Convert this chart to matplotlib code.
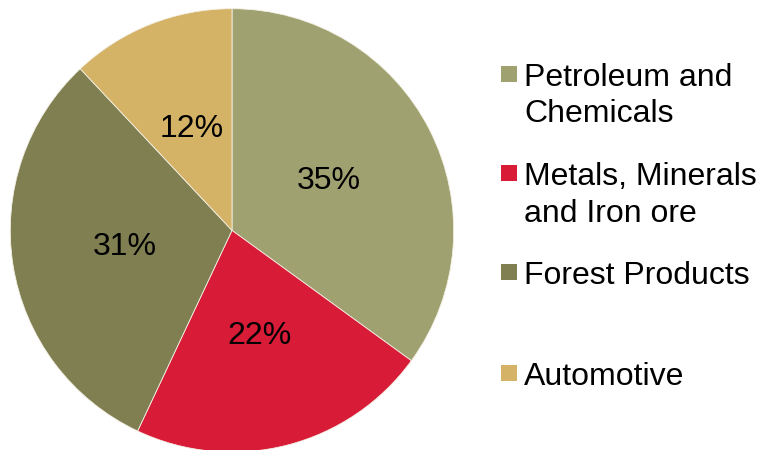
import matplotlib
matplotlib.use('Agg')
import matplotlib.pyplot as plt
from matplotlib.patches import Rectangle

plt.rcParams['font.family'] = ['Liberation Sans', 'DejaVu Sans']

categories = ['Petroleum and\nChemicals', 'Metals, Minerals\nand Iron ore', 'Forest Products', 'Automotive']
shares = [35, 22, 31, 12]
colors = ['#A0A170', '#D81C38', '#7F7F52', '#D4B266']

W, H = 757, 450
fig = plt.figure(figsize=(W / 100, H / 100), dpi=100)

# pie placed by pixel centre and radius
cx, cy, r = 232, 230.4, 221.7
ax = fig.add_axes([(cx - r) / W, (H - cy - r) / H, 2 * r / W, 2 * r / H])
wedges, texts, autotexts = ax.pie(
    shares, colors=colors, startangle=90, counterclock=False,
    autopct='%d%%', pctdistance=0.49,
    wedgeprops=dict(edgecolor='#f4f0e4', linewidth=0.6),
    textprops=dict(fontsize=23, color='black'))
ax.set_xlim(-1, 1)
ax.set_ylim(-1, 1)
ax.set_aspect('equal')

# legend drawn in pixel coordinates, one text per line so the
# marker sits next to the first line
lax = fig.add_axes([0, 0, 1, 1])
lax.set_xlim(0, W)
lax.set_ylim(H, 0)
lax.axis('off')
marker_y = [74, 173, 272, 373]
for label, col, y in zip(categories, colors, marker_y):
    lax.add_patch(Rectangle((501, y - 8), 16, 16, facecolor=col, edgecolor='none'))
    for i, line in enumerate(label.split('\n')):
        lax.text(524, y + 12 + i * 36.5, line, fontsize=23, va='baseline', ha='left')

fig.savefig('out.png', dpi=100)
